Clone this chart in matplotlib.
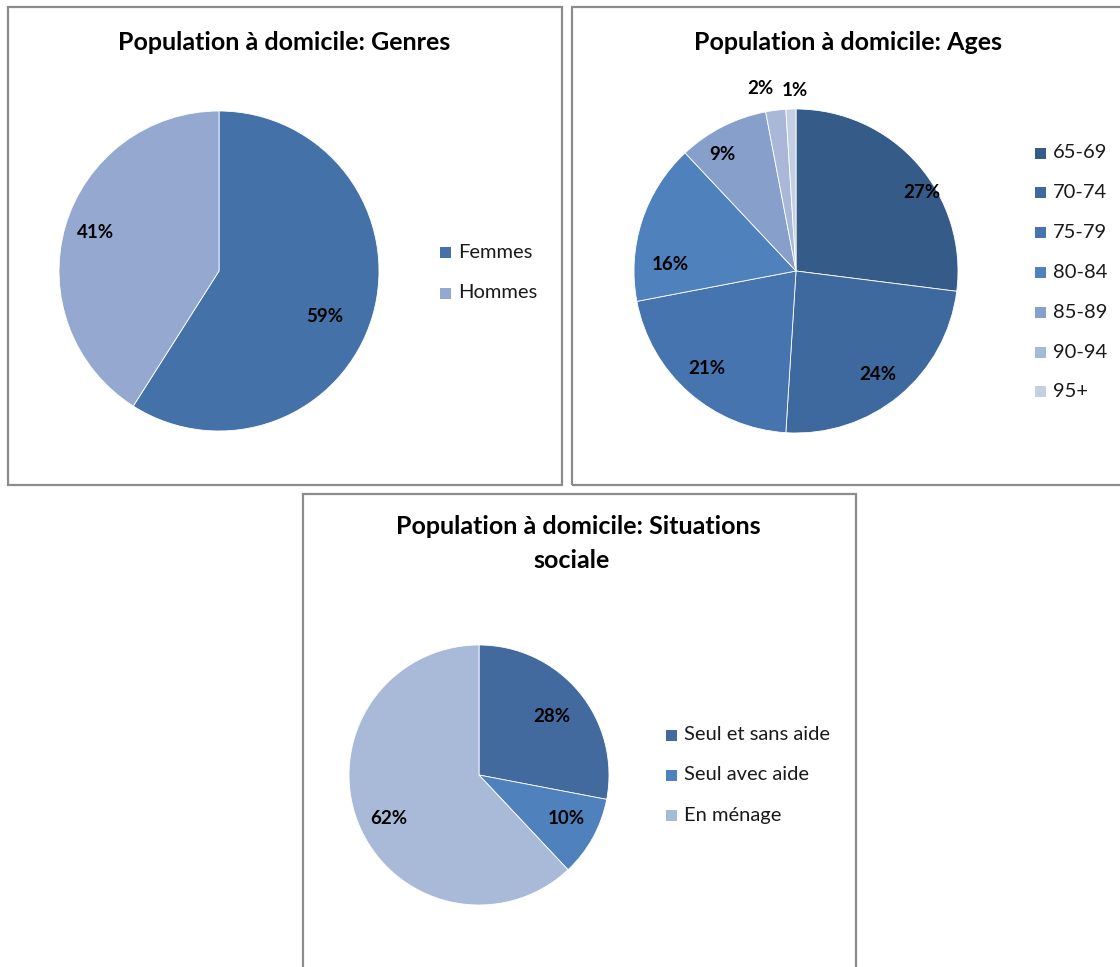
import numpy as np
import matplotlib
matplotlib.use('Agg')
import matplotlib.pyplot as plt
from matplotlib.patches import Rectangle

# donnees des trois camemberts
genres = ['Femmes', 'Hommes']
genres_pct = [59, 41]
genres_col = ['#4472a8', '#95a9d0']

ages = ['65-69', '70-74', '75-79', '80-84', '85-89', '90-94', '95+']
ages_pct = [27, 24, 21, 16, 9, 2, 1]
ages_col = ['#355b88', '#3e699e', '#4674af', '#4f81bd', '#86a0cb', '#a9b8d8', '#c5cfe3']

social = ['Seul et sans aide', 'Seul avec aide', 'En ménage']
social_pct = [28, 10, 62]
social_col = ['#426a9e', '#4f81bd', '#a9b9d8']

plt.rcParams['font.family'] = ['Lato', 'DejaVu Sans']

W, H = 1120, 967
fig = plt.figure(figsize=(W / 100, H / 100), dpi=100)
ax = fig.add_axes([0, 0, 1, 1])
ax.set_xlim(0, W)
ax.set_ylim(0, H)
ax.set_aspect('equal')
ax.axis('off')

def Y(y):
    # coordonnees pixel (origine en haut) -> axes
    return H - y

# cadres des graphiques
for x0, y0, x1, y1 in [(7.5, 6.5, 561.5, 485), (572, 6.5, 1125, 485), (302.5, 493.5, 856, 980)]:
    ax.add_patch(Rectangle((x0, Y(y1)), x1 - x0, y1 - y0, fill=False,
                           edgecolor='#8c8c8c', linewidth=1.6, zorder=1))

def draw_pie(vals, cols, cx, cy, r, lab_pos):
    wedges, _ = ax.pie(vals, colors=cols, center=(cx, Y(cy)), radius=r, startangle=90,
                       counterclock=False, wedgeprops=dict(edgecolor='white', linewidth=0.6),
                       frame=True)
    for v, (dx, dy) in zip(vals, lab_pos):
        ax.text(cx + dx, Y(cy) - dy, '%d%%' % v, ha='center', va='center',
                fontsize=13.5, fontweight='bold', color='black')

def draw_legend(labels, cols, x, y0, step):
    for i, (lab, c) in enumerate(zip(labels, cols)):
        y = y0 + i * step
        ax.add_patch(Rectangle((x, Y(y) - 5.5), 11, 11, facecolor=c, edgecolor='none'))
        ax.text(x + 18, Y(y), lab, ha='left', va='center', fontsize=14.5, color='#1a1a1a')

TITLE = 18

# Genres
draw_pie(genres_pct, genres_col, 219, 271, 160, [(106, 46), (-123, -38)])
draw_legend(genres, genres_col, 440, 252, 41)
ax.text(284, Y(42), 'Population à domicile: Genres', ha='center', va='center',
        fontsize=TITLE, fontweight='bold')

# Ages
draw_pie(ages_pct, ages_col, 796, 271, 162,
         [(126, -79), (82, 104), (-89, 98), (-126, -6), (-74, -117), (-36, -183), (-1, -181)])
draw_legend(ages, ages_col, 1035, 153, 39.8)
ax.text(848, Y(42), 'Population à domicile: Ages', ha='center', va='center',
        fontsize=TITLE, fontweight='bold')

# Situations sociale
draw_pie(social_pct, social_col, 479, 775, 130, [(73, -58), (87, 44), (-90, 44)])
draw_legend(social, social_col, 666, 735, 40)
ax.text(578, Y(527), 'Population à domicile: Situations', ha='center', va='center',
        fontsize=TITLE, fontweight='bold')
ax.text(572, Y(561), 'sociale', ha='center', va='center', fontsize=TITLE, fontweight='bold')

ax.set_xlim(0, W)
ax.set_ylim(0, H)
ax.axis('off')
fig.savefig('out.png', dpi=100)
